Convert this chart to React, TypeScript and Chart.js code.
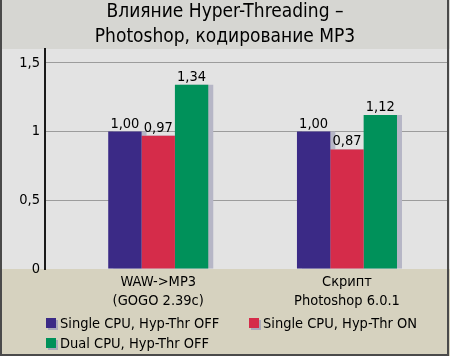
import React, { useEffect, useRef } from 'react';
import { Chart, registerables } from 'chart.js';

Chart.register(...registerables);

const titleLines = ['Влияние Hyper-Threading –', 'Photoshop, кодирование MP3'];
const categories = [['WAW->MP3', '(GOGO 2.39c)'], ['Скрипт', 'Photoshop 6.0.1']];
const seriesNames = ['Single CPU, Hyp-Thr OFF', 'Single CPU, Hyp-Thr ON', 'Dual CPU, Hyp-Thr OFF'];
const singleCpuHtOff = [1.0, 1.0];
const singleCpuHtOn = [0.97, 0.87];
const dualCpuHtOff = [1.34, 1.12];
const yTicks = [0, 0.5, 1, 1.5];

const FONT = "'Liberation Sans Narrow', 'DejaVu Sans Condensed', 'Arial Narrow', sans-serif";
const FS = 14.5;
const COLORS = ['#3b2a86', '#d52c4a', '#00915a'];
const fmt = (v: number, d: number) => v.toFixed(d).replace('.', ',');

const framePlugin = {
  id: 'frame',
  beforeDraw(chart: any) {
    const { ctx, chartArea, width, height } = chart;
    ctx.save();
    ctx.fillStyle = '#d6d6d2';
    ctx.fillRect(0, 0, width, chartArea.top);
    ctx.fillStyle = '#e3e3e3';
    ctx.fillRect(0, chartArea.top, width, chartArea.bottom - chartArea.top);
    ctx.fillStyle = '#d6d2bf';
    ctx.fillRect(0, chartArea.bottom, width, height - chartArea.bottom);
    ctx.fillStyle = '#000';
    ctx.font = `19px ${FONT}`;
    ctx.textAlign = 'center';
    ctx.textBaseline = 'middle';
    titleLines.forEach((t, i) => ctx.fillText(t, width / 2, 12 + i * 25));
    ctx.restore();
  },
  beforeDatasetsDraw(chart: any) {
    const { ctx } = chart;
    ctx.save();
    ctx.fillStyle = '#b6b6c6';
    chart.data.datasets.forEach((_: any, di: number) => {
      chart.getDatasetMeta(di).data.forEach((el: any) => {
        const { x, y, base, width } = el.getProps(['x', 'y', 'base', 'width'], true);
        ctx.fillRect(x - width / 2 + 5, y, width, base - y);
      });
    });
    ctx.restore();
  },
  afterDatasetsDraw(chart: any) {
    const { ctx } = chart;
    ctx.save();
    ctx.fillStyle = '#000';
    ctx.font = `${FS}px ${FONT}`;
    ctx.textAlign = 'center';
    ctx.textBaseline = 'alphabetic';
    chart.data.datasets.forEach((ds: any, di: number) => {
      chart.getDatasetMeta(di).data.forEach((el: any, i: number) => {
        const { x, y } = el.getProps(['x', 'y'], true);
        ctx.fillText(fmt(ds.data[i].y, 2), x, y - 4);
      });
    });
    ctx.restore();
  },
  afterDraw(chart: any) {
    const { ctx, width, height } = chart;
    ctx.save();
    const pos = [
      [46, 323],
      [249, 323],
      [46, 343],
    ];
    ctx.font = `${FS}px ${FONT}`;
    ctx.textAlign = 'left';
    ctx.textBaseline = 'middle';
    chart.data.datasets.forEach((ds: any, i: number) => {
      const [x, y] = pos[i];
      ctx.fillStyle = '#a9a9b8';
      ctx.fillRect(x + 2, y - 3, 10, 10);
      ctx.fillStyle = ds.backgroundColor;
      ctx.fillRect(x, y - 5, 10, 10);
      ctx.fillStyle = '#000';
      ctx.fillText(ds.label, x + 14, y + 1);
    });
    ctx.strokeStyle = '#4a4a4a';
    ctx.lineWidth = 2;
    ctx.beginPath();
    ctx.moveTo(1, 0);
    ctx.lineTo(1, height - 1);
    ctx.lineTo(width - 2, height - 1);
    ctx.lineTo(width - 2, 0);
    ctx.stroke();
    ctx.restore();
  },
};

export default function App() {
  const ref = useRef<HTMLCanvasElement>(null);
  useEffect(() => {
    if (!ref.current) return;
    const series = [singleCpuHtOff, singleCpuHtOn, dualCpuHtOff];
    const chart = new Chart(ref.current, {
      type: 'bar',
      data: {
        datasets: series.map((vals, si) => ({
          label: seriesNames[si],
          data: vals.map((v, i) => ({ x: i, y: v })),
          backgroundColor: COLORS[si],
          borderWidth: 0,
          barPercentage: 1,
          categoryPercentage: 0.53,
        })),
      },
      options: {
        responsive: false,
        animation: false,
        devicePixelRatio: 1,
        layout: { padding: { top: 49, left: 16, right: 3, bottom: 0 } },
        plugins: { legend: { display: false }, title: { display: false }, tooltip: { enabled: false } },
        scales: {
          x: {
            type: 'linear',
            min: -0.6,
            max: 1.53,
            offset: false,
            afterBuildTicks: (s: any) => {
              s.ticks = categories.map((_, i) => ({ value: i }));
            },
            afterFit: (s: any) => {
              s.height = 87;
            },
            grid: { display: false, drawTicks: false },
            border: { display: false },
            ticks: {
              padding: 4,
              color: '#000',
              autoSkip: false,
              maxRotation: 0,
              font: { family: FONT, size: FS, lineHeight: 1.3 },
              callback: (v: any) => categories[v] ?? '',
            },
          },
          y: {
            min: 0,
            max: 1.6,
            afterBuildTicks: (s: any) => {
              s.ticks = yTicks.map((v) => ({ value: v }));
            },
            afterFit: (s: any) => {
              s.width = 29;
            },
            grid: {
              drawTicks: false,
              lineWidth: 1,
              color: (c: any) => (c.tick && c.tick.value > 0 ? '#9c9c9c' : 'rgba(0,0,0,0)'),
            },
            border: { display: true, color: '#1a1a1a', width: 2 },
            ticks: {
              padding: 5,
              color: '#000',
              font: { family: FONT, size: FS },
              callback: (v: any) => String(v).replace('.', ','),
            },
          },
        },
      },
      plugins: [framePlugin],
    } as any);
    return () => chart.destroy();
  }, []);
  return (
    <div style={{ position: 'absolute', left: 0, top: 0, width: 450, height: 356 }}>
      <canvas ref={ref} width={450} height={356} style={{ width: 450, height: 356, display: 'block' }} />
    </div>
  );
}
